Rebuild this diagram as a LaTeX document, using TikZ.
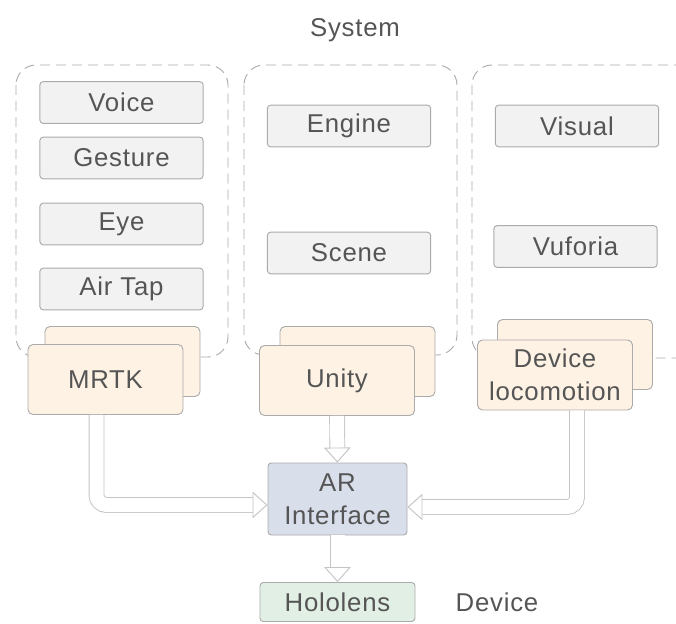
\documentclass[tikz,border=0pt]{standalone}
\usepackage{fontspec}
\setmainfont{Liberation Sans}[LetterSpace=3]
\usetikzlibrary{positioning, arrows.meta, calc}

\definecolor{txtgray}{HTML}{555555}
\definecolor{linegray}{HTML}{ABABAB}
\definecolor{boxgray}{HTML}{F2F2F2}
\definecolor{boxorange}{HTML}{FDF2E4}
\definecolor{boxblue}{HTML}{D9DEEB}
\definecolor{boxgreen}{HTML}{E2EFE5}
\definecolor{arrowgray}{HTML}{C4C4C4}

\begin{document}
\begin{tikzpicture}[
  x=0.03cm, y=-0.03cm,
  every node/.style={font=\fontsize{22}{28}\selectfont, text=txtgray, align=center},
  group/.style={draw=linegray, dash pattern=on 0.3cm off 0.18cm, rounded corners=0.6cm, line width=0.8pt},
  part/.style={draw=linegray, fill=boxgray, rounded corners=0.1cm, minimum width=4.9cm, minimum height=1.25cm, line width=0.8pt},
  tool/.style={draw=linegray, fill=boxorange, rounded corners=0.15cm, minimum width=4.65cm, minimum height=2.1cm, line width=0.8pt},
  flow/.style={draw=arrowgray, line width=0.8pt, double=white, double distance=0.42cm, -{Triangle[width=0.8cm, length=0.45cm, open]}, rounded corners=0.3cm}
]
  \clip (0,0) rectangle (676,624);

  % dashed groups
  \draw[group] (16,65) rectangle (228,357);
  \draw[group] (244,65) rectangle (457,355);
  \draw[group] (472,65) rectangle (700,358);

  \node (system) at (355,30) {System};

  \node[part] (voice)   at (121.5,102.5) {Voice};
  \node[part] (gesture) at (121.5,158)   {Gesture};
  \node[part] (eye)     at (121.5,224)   {Eye};
  \node[part] (airtap)  at (121.5,289)   {Air Tap};

  \node[part] (engine)  at (349,126)   {Engine};
  \node[part] (scene)   at (349,253)   {Scene};

  \node[part] (visual)  at (577,126)   {Visual};
  \node[part] (vuforia) at (575.5,246.5) {Vuforia};

  % stacked tools
  \node[tool] (mrtkback)   at (122.5,361.5) {};
  \node[tool] (mrtk)       at (105.5,379.5) {MRTK};
  \node[tool] (unityback)  at (357.5,361.5) {};
  \node[tool] (unity)      at (337,380.5)   {Unity};
  \node[tool] (deviceback) at (575,354.5)   {};
  \node[tool] (device)     at (555,375)     {Device\\locomotion};

  \node[draw=linegray, fill=boxblue, line width=0.8pt, rounded corners=0.1cm,
        minimum width=4.17cm, minimum height=2.16cm] (ar) at (337.5,499) {AR\\Interface};
  \node[draw=linegray, fill=boxgreen, line width=0.8pt, rounded corners=0.1cm,
        minimum width=4.65cm, minimum height=1.17cm] (holo) at (337.5,602) {Hololens};
  \node (devlabel) at (497,602) {Device};

  % hollow arrows
  \draw[flow] ($(mrtk.south)+(-9,0)$) |- ($(ar.west)+(0,6)$);
  \draw[flow] ($(device.south)+(22,0)$) |- ($(ar.east)+(0,8)$);
  \draw[flow] (unity) -- (ar);
  \draw[flow] (ar) -- (holo);
\end{tikzpicture}
\end{document}
